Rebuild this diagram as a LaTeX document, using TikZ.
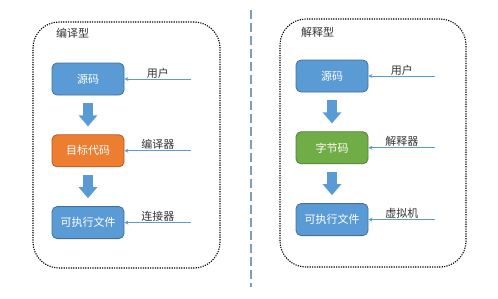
\documentclass[tikz,border=0pt]{standalone}
\usepackage{fontspec}
\setmainfont{Noto Sans CJK SC}
\usetikzlibrary{positioning,arrows.meta}
\definecolor{srcblue}{HTML}{5B9BD5}
\definecolor{srcedge}{HTML}{41719C}
\definecolor{objorange}{HTML}{ED7D31}
\definecolor{objedge}{HTML}{AE5A21}
\definecolor{bytegreen}{HTML}{70AD47}
\definecolor{byteedge}{HTML}{507E32}
\definecolor{divgray}{HTML}{7F9DB5}

\begin{document}
\begin{tikzpicture}[x=1pt,y=-1pt,node distance=39pt and 67pt,
  box/.style={rounded corners=5pt,minimum width=72pt,minimum height=32pt,
    text=white,line width=0.8pt,font=\fontsize{11}{13}\selectfont},
  group/.style={draw=black,dash pattern=on 1.2pt off 1.2pt,line width=1.1pt,rounded corners=26pt},
  bigarr/.style={srcblue,line width=10pt,-{Triangle[width=18pt,length=11pt]},
    shorten <=8pt,shorten >=8pt},
  thinarr/.style={srcblue,line width=0.9pt,-{Stealth[length=4pt,width=4pt]}},
  lbl/.style={black!80,font=\fontsize{11}{13}\selectfont,inner sep=0.5pt},
  ttl/.style={black!80,font=\fontsize{11}{13}\selectfont,anchor=west,inner sep=0pt}]
\useasboundingbox (0,0) rectangle (498,298);

% compiled
\node (cgroup) [group,minimum width=187pt,minimum height=246pt] at (126.5,145) {};
\node (ctitle) [ttl] at (56,33) {编译型};
\node (csrc) [box,fill=srcblue,draw=srcedge] at (88,79) {源码};
\node (cobj) [box,fill=objorange,draw=objedge,below=of csrc] {目标代码};
\node (cexe) [box,fill=srcblue,draw=srcedge,below=of cobj] {可执行文件};
\coordinate[right=of csrc] (cin1);
\coordinate[right=of cobj] (cin2);
\coordinate[right=of cexe] (cin3);
\draw[bigarr] (csrc) -- (cobj);
\draw[bigarr] (cobj) -- (cexe);
\draw[thinarr] (cin1) -- node[lbl,above] {用户} (csrc);
\draw[thinarr] (cin2) -- node[lbl,above] {编译器} (cobj);
\draw[thinarr] (cin3) -- node[lbl,above] {连接器} (cexe);

% divider
\coordinate (dtop) at (251,10);
\coordinate (dbot) at (251,287);
\draw[divgray,line width=1.2pt,dash pattern=on 9pt off 4pt] (dtop) -- (dbot);

% interpreted
\node (igroup) [group,minimum width=186pt,minimum height=248pt] at (373,143) {};
\node (ititle) [ttl] at (301,32) {解释型};
\node (isrc) [box,fill=srcblue,draw=srcedge] at (332,76) {源码};
\node (ibyte) [box,fill=bytegreen,draw=byteedge,below=of isrc] {字节码};
\node (iexe) [box,fill=srcblue,draw=srcedge,below=of ibyte] {可执行文件};
\coordinate[right=of isrc] (iin1);
\coordinate[right=of ibyte] (iin2);
\coordinate[right=of iexe] (iin3);
\draw[bigarr] (isrc) -- (ibyte);
\draw[bigarr] (ibyte) -- (iexe);
\draw[thinarr] (iin1) -- node[lbl,above] {用户} (isrc);
\draw[thinarr] (iin2) -- node[lbl,above] {解释器} (ibyte);
\draw[thinarr] (iin3) -- node[lbl,above] {虚拟机} (iexe);
\end{tikzpicture}
\end{document}
